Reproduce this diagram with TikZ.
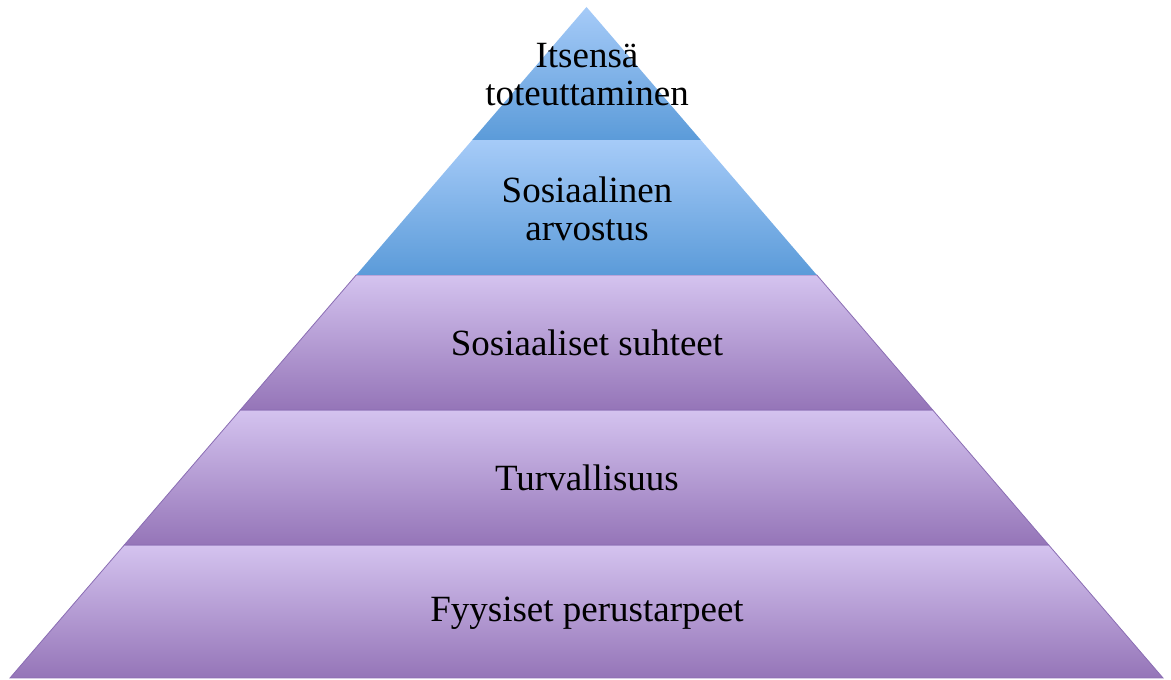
\documentclass[tikz,border=0pt]{standalone}
\usepackage{fontspec}
\setmainfont{Liberation Serif}
\definecolor{bluetop}{HTML}{A6CBF8}
\definecolor{bluebot}{HTML}{5B9BD9}
\definecolor{purtop}{HTML}{D4C3EF}
\definecolor{purbot}{HTML}{9575B8}
\definecolor{puredge}{HTML}{8A6DB3}
\begin{document}
\begin{tikzpicture}[x=1pt,y=1pt,
  bluelayer/.style={top color=bluetop,bottom color=bluebot,draw=none},
  purlayer/.style={top color=purtop,bottom color=purbot,draw=puredge,line width=0.8pt,line join=miter},
  lbl/.style={font=\fontsize{37}{38}\selectfont,align=center,text=black,inner sep=0pt}]
\useasboundingbox (0,0) rectangle (1171,680);
% layers (bottom up)
\shade[purlayer] (10,2) -- (1163,2) -- (1048.7,135) -- (124.3,135) -- cycle;
\shade[purlayer] (124.3,135) -- (1048.7,135) -- (932.7,270) -- (240.3,270) -- cycle;
\shade[purlayer] (240.3,270) -- (932.7,270) -- (816.8,405) -- (356.2,405) -- cycle;
\shade[bluelayer] (356.2,405) -- (816.8,405) -- (700.8,540) -- (472.2,540) -- cycle;
\shade[bluelayer] (472.2,540) -- (700.8,540) -- (586.5,673) -- cycle;
% labels
\node[lbl] (top) at (587,605) {Itsensä\\toteuttaminen};
\node[lbl] (esteem) at (587,471) {Sosiaalinen\\arvostus};
\node[lbl] (social) at (587,337) {Sosiaaliset suhteet};
\node[lbl] (safety) at (587,202) {Turvallisuus};
\node[lbl] (phys) at (587,67) {Fyysiset perustarpeet};
\end{tikzpicture}
\end{document}
